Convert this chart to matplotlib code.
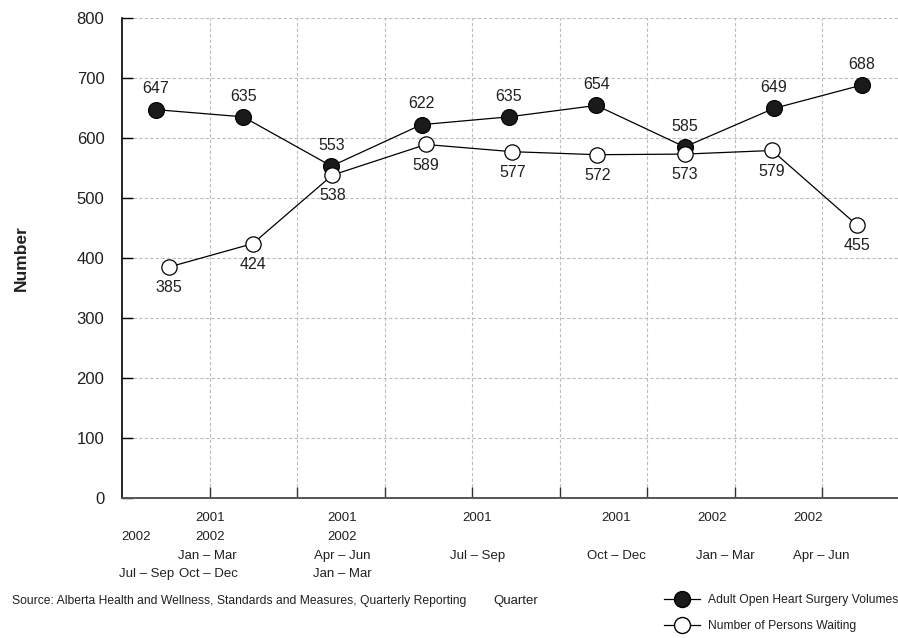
import matplotlib
matplotlib.use("Agg")
import matplotlib.pyplot as plt
from matplotlib.lines import Line2D

# ---- series ----
surgery_volumes = [647, 635, 553, 622, 635, 654, 585, 649, 688]
persons_waiting = [385, 424, 538, 589, 577, 572, 573, 579, 455]

# where each quarter's point sits along the x axis (gridlines on whole numbers)
surgery_pos = [0.38, 1.38, 2.39, 3.42, 4.42, 5.42, 6.43, 7.45, 8.46]
waiting_pos = [0.53, 1.49, 2.40, 3.47, 4.46, 5.43, 6.43, 7.43, 8.40]

# ---- x labels, four text rows under the axis ----
row1_text = ["2001", "2001", "2001", "2001", "2002", "2002"]
row2_text = ["2002", "2002", "2002"]
row3_text = ["Jan – Mar", "Apr – Jun", "Jul – Sep", "Oct – Dec", "Jan – Mar", "Apr – Jun"]
row4_text = ["Jul – Sep", "Oct – Dec", "Jan – Mar"]

row1_x = [1.00, 2.51, 4.06, 5.65, 6.74, 7.84]
row2_x = [0.155, 1.00, 2.51]
row3_x = [0.975, 2.51, 4.06, 5.65, 6.90, 7.99]
row4_x = [0.27, 0.98, 2.51]
row_y = [-32, -63.6, -95.7, -126]

yticks = [0, 100, 200, 300, 400, 500, 600, 700, 800]

TEXT = "#231f20"
GRID = "#bdbdbd"

plt.rcParams["font.family"] = ["Liberation Sans", "DejaVu Sans"]

fig = plt.figure(figsize=(8.98, 6.38), dpi=100)
ax = fig.add_axes([0.1364, 0.2187, 1 - 0.1364, 0.7536])

ax.set_xlim(0, 8.87)
ax.set_ylim(0, 800)

# dashed grid
for v in yticks[1:]:
    ax.axhline(v, color=GRID, lw=0.8, ls=(0, (3, 2)), zorder=1)
for v in range(1, 9):
    ax.axvline(v, color=GRID, lw=0.8, ls=(0, (3, 2)), zorder=1)

ax.plot(surgery_pos, surgery_volumes, color="black", lw=0.9, marker="o",
        ms=11.5, mfc="#1a1a1a", mec="black", mew=0.8, zorder=3)
ax.plot(waiting_pos, persons_waiting, color="black", lw=0.9, marker="o",
        ms=11, mfc="white", mec="black", mew=0.9, zorder=4)

for x, v in zip(surgery_pos, surgery_volumes):
    ax.annotate(str(v), (x, v), xytext=(0, 15), textcoords="offset points",
                ha="center", va="center", fontsize=11.5, color=TEXT)
for x, v in zip(waiting_pos, persons_waiting):
    ax.annotate(str(v), (x, v), xytext=(0, -15), textcoords="offset points",
                ha="center", va="center", fontsize=11.5, color=TEXT)

# axes styling
for s in ["top", "right"]:
    ax.spines[s].set_visible(False)
ax.spines["left"].set_linewidth(1.2)
ax.spines["bottom"].set_color("#555555")
ax.spines["bottom"].set_linewidth(1.4)

ax.set_yticks(yticks)
ax.set_yticklabels([str(v) for v in yticks], fontsize=12, color=TEXT)
ax.tick_params(axis="y", direction="in", length=8, width=1, pad=13)
ax.set_xticks(range(1, 9))
ax.set_xticklabels([])
ax.tick_params(axis="x", direction="in", length=8, width=1, color="#333333")

ax.set_ylabel("Number", fontsize=12.5, fontweight="bold", color=TEXT, labelpad=34)

rows = [(row1_text, row1_x), (row2_text, row2_x), (row3_text, row3_x), (row4_text, row4_x)]
for (texts, xs), y in zip(rows, row_y):
    for t, x in zip(texts, xs):
        ax.text(x, y, t, ha="center", va="center", fontsize=9.5,
                color=TEXT, clip_on=False)

# footer
fig.text(12 / 898, 1 - 601 / 638,
         "Source: Alberta Health and Wellness, Standards and Measures, Quarterly Reporting",
         ha="left", va="center", fontsize=8.7, color=TEXT)
fig.text(493 / 898, 1 - 601 / 638, "Quarter", ha="left", va="center",
         fontsize=9.5, color=TEXT)

handles = [
    Line2D([], [], color="black", lw=0.9, marker="o", ms=11.5, mfc="#1a1a1a", mec="black"),
    Line2D([], [], color="black", lw=0.9, marker="o", ms=11.5, mfc="white", mec="black"),
]
fig.legend(handles, ["Adult Open Heart Surgery Volumes", "Number of Persons Waiting"],
           loc="upper left", bbox_to_anchor=(664 / 898, 1 - 594 / 638), frameon=False,
           prop={"size": 8.7}, handlelength=3.0, handletextpad=0.6,
           labelspacing=1.2, borderpad=0, borderaxespad=0, labelcolor=TEXT)

fig.savefig("out.png", dpi=100)
